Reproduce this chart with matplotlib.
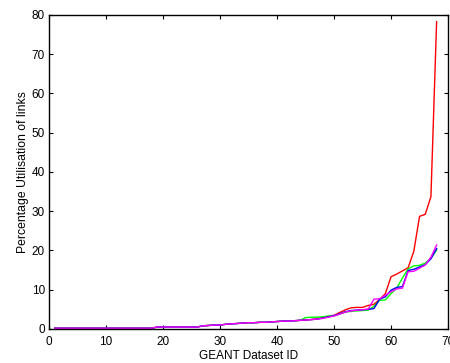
import matplotlib
matplotlib.use("Agg")
import matplotlib.pyplot as plt
import numpy as np

plt.rcParams['font.family'] = ['Liberation Sans', 'DejaVu Sans']

dataset_id = list(range(1, 69))

base = [0.2] * 18 + [0.5] * 8 + [0.8, 0.9, 1.0, 1.0, 1.2, 1.3, 1.4, 1.5, 1.6, 1.6,
                                 1.7, 1.7, 1.8, 1.9, 2.0, 2.0, 2.1, 2.2]

red = base + [2.3, 2.4, 2.6, 2.9, 3.2, 3.5, 4.2, 4.9, 5.4, 5.5, 5.5, 6.0, 6.3, 7.5, 9.0,
              13.3, 14.0, 14.8, 15.6, 19.8, 28.7, 29.2, 33.7, 78.3]
green = base + [2.9, 3.0, 3.0, 3.1, 3.3, 3.4, 3.8, 4.3, 4.5, 4.6, 4.7, 4.8, 5.8, 7.3,
                7.4, 9.0, 10.4, 13.0, 15.3, 16.1, 16.2, 16.8, 18.0, 20.1]
blue = base + [2.3, 2.4, 2.5, 2.8, 3.1, 3.4, 3.9, 4.4, 4.7, 4.8, 4.9, 5.0, 5.2, 7.6, 8.2,
               9.9, 10.6, 10.8, 14.9, 15.2, 15.8, 16.4, 17.9, 20.5]
magenta = base + [2.3, 2.4, 2.5, 2.7, 3.0, 3.3, 3.8, 4.3, 4.6, 4.8, 4.9, 5.1, 7.6, 7.7, 8.6,
                  9.5, 10.2, 10.4, 14.6, 14.7, 15.5, 16.3, 18.3, 21.4]

x_ticks = [0, 10, 20, 30, 40, 50, 60, 70]
y_ticks = [0, 10, 20, 30, 40, 50, 60, 70, 80]

fig = plt.figure(figsize=(4.5, 3.63), dpi=100)
ax = fig.add_axes([0.109, 0.0937, 0.8866, 0.865])

ax.plot(dataset_id, red, color='#ff0000', lw=1)
ax.plot(dataset_id, green, color='#00ff00', lw=1)
ax.plot(dataset_id, blue, color='#0000ff', lw=1)
ax.plot(dataset_id, magenta, color='#ff00ff', lw=1)

ax.set_xlim(0, 70)
ax.set_ylim(0, 80)
ax.set_xticks(x_ticks)
ax.set_yticks(y_ticks)
ax.tick_params(direction='in', length=3, width=0.8, labelsize=8.5, top=True, right=True)
ax.tick_params(axis='x', pad=5)
ax.tick_params(axis='y', pad=3)
for s in ax.spines.values():
    s.set_linewidth(1.0)
ax.set_xlabel('GEANT Dataset ID', fontsize=8.5, labelpad=1.5)
ax.set_ylabel('Percentage Utilisation of links', fontsize=8.8, labelpad=2)

fig.savefig('out.png', dpi=100)
